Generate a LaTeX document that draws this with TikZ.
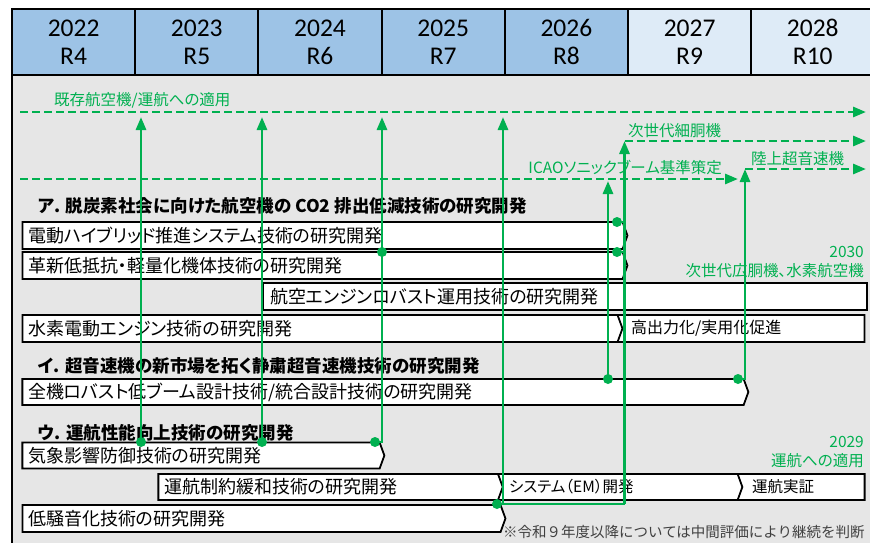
\documentclass[tikz,border=0pt]{standalone}
\usepackage{fontspec}
\setmainfont{Carlito}
\newfontfamily\jp{Noto Sans CJK JP}[RawFeature=+palt]
\newfontfamily\jpfix{Noto Sans CJK JP}
\usetikzlibrary{arrows.meta,positioning,shapes.symbols}
\definecolor{yrblue}{RGB}{157,195,230}
\definecolor{yrlight}{RGB}{222,235,247}
\definecolor{panelgray}{RGB}{230,230,230}
\definecolor{appgreen}{RGB}{0,176,80}
\tikzset{
    %Define standard arrow tip
    >={Triangle[length=13pt,width=10pt]},
    %Define style for year cells
    yearcell/.style={
           rectangle,
           draw=black, line width=2pt,
           outer sep=0pt,
           minimum width=123.2pt,
           minimum height=66pt,
           font=\fontsize{25.5}{28}\selectfont,
           align=center,
           fill=yrblue},
    yearnext/.style={
           yearcell,
           fill=yrlight},
    %Define style for task bars
    taskbar/.style={
           signal,
           signal pointer angle=140,
           draw=black, line width=1.8pt,
           fill=white,
           minimum height=27pt,
           inner sep=0pt,
           font=\jp\fontsize{18}{20}\selectfont,
           align=left},
    % Define style for section titles
    sectitle/.style={
           anchor=west,
           inner sep=0pt,
           font=\jp\bfseries\fontsize{17.5}{20}\selectfont},
    % Define green connector styles
    applink/.style={
           draw=appgreen,
           line width=2.8pt},
    appgoal/.style={
           applink, ->,
           dash pattern=on 8pt off 4pt},
    appdot/.style={
           circle,
           fill=appgreen,
           inner sep=0pt,
           minimum size=10pt},
    applabel/.style={
           text=appgreen,
           inner sep=0pt,
           font=\jp\fontsize{15.5}{19}\selectfont}
}
\begin{document}
\begin{tikzpicture}[x=1pt,y=-1pt]
\useasboundingbox (0,0) rectangle (870,542);
\draw[fill=panelgray, line width=2pt] (12,75) rectangle (880,560);

% year header
\node[yearcell](h1) at (73.6,42){2022\\R4};
\node[yearcell, right=0pt of h1](h2){2023\\R5};
\node[yearcell, right=0pt of h2](h3){2024\\R6};
\node[yearcell, right=0pt of h3](h4){2025\\R7};
\node[yearcell, right=0pt of h4](h5){2026\\R8};
\node[yearnext, right=0pt of h5](h6){2027\\R9};
\node[yearnext, right=0pt of h6](h7){2028\\R10};

% section A
\node[sectitle](ta) at (38,206){ア. 脱炭素社会に向けた航空機の CO2 排出低減技術の研究開発};
\node[taskbar, signal to=east, minimum width=605pt, text width=589pt](b1) at (322.5,235.5){電動ハイブリッド推進システム技術の研究開発};
\node[taskbar, signal to=east, minimum width=605pt, text width=589pt](b2) at (322.5,265.5){革新低抵抗・軽量化機体技術の研究開発};
\node[taskbar, signal to=nowhere, minimum width=604pt, text width=590pt](b3) at (565,296.5){航空エンジンロバスト運用技術の研究開発};
\node[taskbar, signal to=east, minimum width=605pt, text width=589pt](b4) at (322.5,328.5){水素電動エンジン技術の研究開発};
\node[taskbar, signal from=west, signal to=nowhere, minimum width=247pt, text width=225pt, font=\jp\fontsize{16}{18}\selectfont](b4x) at (743.5,328.5){高出力化/実用化促進};

% section B
\node[sectitle](tb) at (38,366){イ. 超音速機の新市場を拓く静粛超音速機技術の研究開発};
\node[taskbar, signal to=east, minimum width=726pt, text width=710pt, minimum height=26pt](b5) at (383,392){全機ロバスト低ブーム設計技術/統合設計技術の研究開発};

% section C
\node[sectitle](tc) at (38,433){ウ. 運航性能向上技術の研究開発};
\node[taskbar, signal to=east, minimum width=362pt, text width=346pt, minimum height=26pt](b6) at (201,455.5){気象影響防御技術の研究開発};
\node[taskbar, signal to=east, minimum width=347pt, text width=331pt, minimum height=26pt](b7) at (329.5,487){運航制約緩和技術の研究開発};
\node[taskbar, signal from=west, signal to=east, minimum width=247pt, text width=225pt, minimum height=26pt, font=\jp\fontsize{15.5}{18}\selectfont](b7x) at (621.5,487){システム（EM）開発};
\node[taskbar, signal from=west, signal to=nowhere, minimum width=127pt, text width=103pt, minimum height=26pt, font=\jp\fontsize{15.5}{18}\selectfont](b7y) at (803.5,487){運航実証};
\node[taskbar, signal to=east, minimum width=483pt, text width=467pt](b8) at (261.5,518.5){低騒音化技術の研究開発};
\node[anchor=west, inner sep=0pt, text=black!75, font=\jpfix\fontsize{14.5}{16}\selectfont](fn) at (503,532){※令和９年度以降については中間評価により継続を判断};

% application lines
\coordinate (ex0) at (20,112);
\coordinate (ex1) at (866,112);
\coordinate (ic0) at (20,179);
\coordinate (ic1) at (738,179);
\coordinate (nb0) at (624.5,141);
\coordinate (nb1) at (866,141);
\coordinate (ss0) at (745,169);
\coordinate (ss1) at (866,169);
\draw[appgoal] (ex0) -- (ex1);
\draw[appgoal] (ic0) -- (ic1);
\draw[appgoal] (nb0) -- (nb1);
\draw[appgoal] (ss0) -- (ss1);
\node[applabel, anchor=west](l1) at (54,100){既存航空機/運航への適用};
\node[applabel, anchor=west](l2) at (628,131){次世代細胴機};
\node[applabel, anchor=east](l3) at (722,168){ICAOソニックブーム基準策定};
\node[applabel, anchor=west](l4) at (751,159){陸上超音速機};
\node[applabel, anchor=east, align=right](l5) at (864,262){2030\\次世代広胴機、水素航空機};
\node[applabel, anchor=east, align=right](l6) at (864,452){2029\\運航への適用};

% links from the tasks
\node[appdot](d1) at (141,442){};
\node[appdot](d2) at (262,442){};
\node[appdot](d3) at (375,442){};
\node[appdot](d4) at (382,252){};
\node[appdot](d5) at (617,222){};
\node[appdot](d6) at (617,252){};
\node[appdot](d7) at (608,379){};
\node[appdot](d8) at (738,379){};
\node[appdot](d9) at (497,504){};
\coordinate (em0) at (503,504);
\coordinate (em1) at (624.5,504);
\draw[applink,->,shorten >=5pt] (d1.center) -- (d1 |- ex0);
\draw[applink,->,shorten >=5pt] (d2.center) -- (d2 |- ex0);
\draw[applink,->,shorten >=5pt] (d3.center) -| (d4 |- ex0);
\draw[applink,->,shorten >=5pt] (em0) -- (em0 |- ex0);
\draw[applink] (d9.center) -- (em1);
\draw[applink,->] (em1) -- (nb0);
\draw[applink] (d5.center) -- (d5 -| em1);
\draw[applink] (d6.center) -- (d6 -| em1);
\draw[applink,->,shorten >=2pt] (d7.center) -- (d7 |- ic0);
\draw[applink,->] (d8.center) -| (ss0);
\end{tikzpicture}
\end{document}
